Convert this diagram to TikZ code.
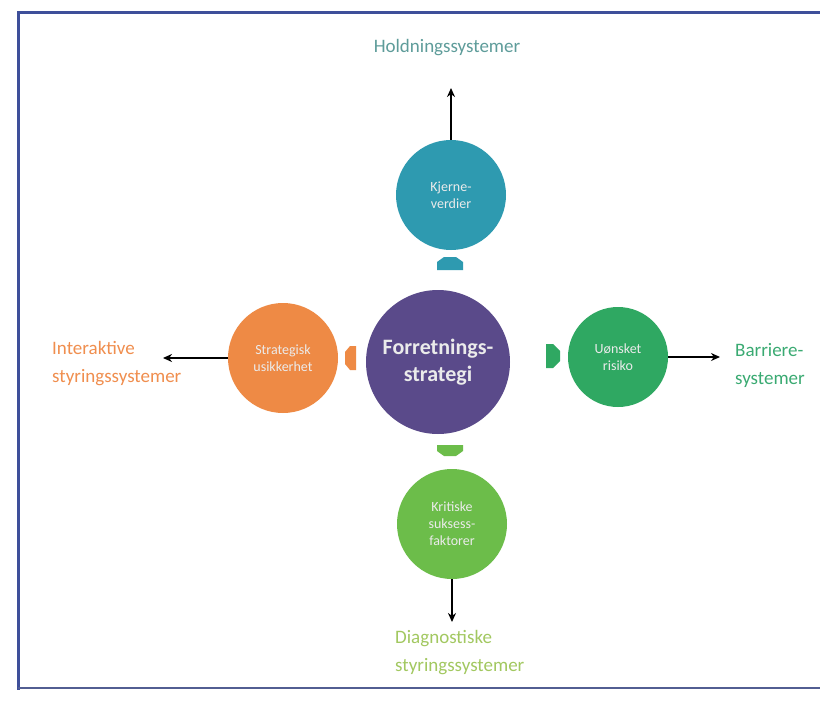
\documentclass[tikz,border=0pt]{standalone}
\usepackage{fontspec}
\setmainfont{Carlito}
\usetikzlibrary{arrows.meta}
\definecolor{frameblue}{HTML}{3E4F9A}
\definecolor{cteal}{HTML}{2E9AB0}
\definecolor{cpurple}{HTML}{5A4A8A}
\definecolor{corange}{HTML}{EE8A45}
\definecolor{cgreen}{HTML}{2FA862}
\definecolor{clgreen}{HTML}{6CBD4A}
\definecolor{tteal}{HTML}{5E9C9A}
\definecolor{torange}{HTML}{F08E4E}
\definecolor{tgreen}{HTML}{3AAA72}
\definecolor{tlgreen}{HTML}{A2C860}
\tikzset{
  x=1pt,y=-1pt,
  bubble/.style={circle,draw=none,text=white!92!black,align=center,inner sep=0pt,font=\fontsize{14}{17}\selectfont},
  outlabel/.style={font=\fontsize{19}{28}\selectfont,align=left,inner sep=0pt},
  conn/.style={-{Stealth[length=9pt,width=8pt]},line width=1.5pt,black}
}
\begin{document}
\begin{tikzpicture}
\useasboundingbox (0,0) rectangle (820,712);
\fill[white] (0,0) rectangle (820,712);
% frame
\draw[frameblue,line width=3pt] (820,12) -- (18,12) -- (18,690);
\draw[frameblue!70!gray,line width=2pt] (18,688) -- (820,688);

% circles
\node[bubble,fill=cpurple,minimum size=144pt,font=\bfseries\fontsize{22}{27}\selectfont] (main) at (438,362) {Forretnings-\\strategi};
\node[bubble,fill=cteal,minimum size=110pt] (top) at (451,195) {Kjerne-\\verdier};
\node[bubble,fill=corange,minimum size=110pt] (left) at (283,358) {Strategisk\\usikkerhet};
\node[bubble,fill=cgreen,minimum size=100pt] (right) at (618,357) {Uønsket\\risiko};
\node[bubble,fill=clgreen,minimum size=110pt] (bottom) at (452,524) {Kritiske\\suksess-\\faktorer};

% small chevrons
\fill[cteal] (437,270) -- (437,262) -- (444,257) -- (456,257) -- (463,262) -- (463,270) -- cycle;
\fill[corange] (356,346) -- (350,346) -- (345,352) -- (345,364) -- (350,370) -- (356,370) -- cycle;
\fill[cgreen] (546,344) -- (553,344) -- (560,351) -- (560,361) -- (553,368) -- (546,368) -- cycle;
\fill[clgreen] (437,445) -- (437,451) -- (444,456) -- (456,456) -- (463,451) -- (463,445) -- cycle;

% outer labels
\node[outlabel,text=tteal,anchor=center] (lhold) at (447,48) {Holdningssystemer};
\node[outlabel,text=torange,anchor=west] (lint) at (52,364) {Interaktive\\styringssystemer};
\node[outlabel,text=tgreen,anchor=west] (lbar) at (735,365) {Barriere-\\systemer};
\node[outlabel,text=tlgreen,anchor=west] (ldia) at (395,653) {Diagnostiske\\styringssystemer};

\coordinate (etop) at (451,88);
\coordinate (eleft) at (163,358);
\coordinate (eright) at (720,357);
\coordinate (ebot) at (452,622);

\draw[conn] (top.north) -- (etop);
\draw[conn] (left.west) -- (eleft);
\draw[conn] (right.east) -- (eright);
\draw[conn] (bottom.south) -- (ebot);
\end{tikzpicture}
\end{document}
